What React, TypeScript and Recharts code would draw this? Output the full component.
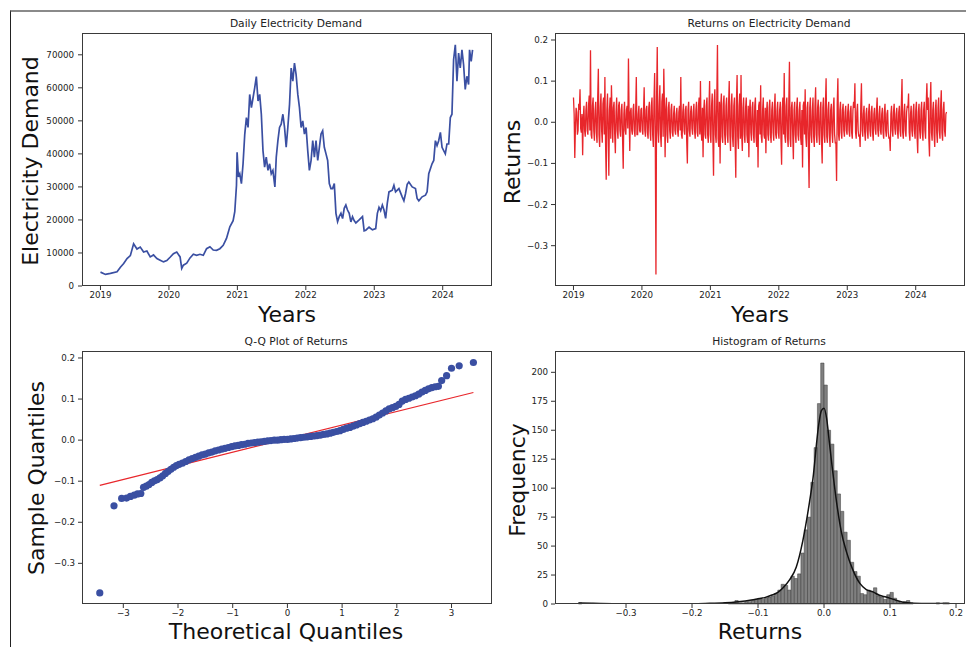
import React from 'react';
import { LineChart, Line, XAxis, YAxis, ComposedChart, Scatter, ReferenceArea } from 'recharts';

// ---------------- DATA ----------------
const yearTicks = [2019, 2020, 2021, 2022, 2023, 2024];
const demandTicks = [0, 10000, 20000, 30000, 40000, 50000, 60000, 70000];
const returnTicks = [-0.3, -0.2, -0.1, 0, 0.1, 0.2];
const qqXTicks = [-3, -2, -1, 0, 1, 2, 3];
const histXTicks = [-0.3, -0.2, -0.1, 0, 0.1, 0.2];
const histYTicks = [0, 25, 50, 75, 100, 125, 150, 175, 200];

// [decimal year, electricity demand]
const demandSeries: [number, number][] = [
  [2019.000, 4200], [2019.073, 3500], [2019.145, 3800], [2019.242, 4300], [2019.291, 5700], [2019.339, 6800],
  [2019.388, 8300], [2019.436, 9200], [2019.484, 12800], [2019.533, 11200], [2019.581, 11800], [2019.630, 10300],
  [2019.678, 10600], [2019.727, 8800], [2019.775, 9400], [2019.824, 8300], [2019.872, 7800], [2019.921, 7300],
  [2019.969, 7700], [2020.017, 8700], [2020.066, 9800], [2020.114, 10300], [2020.163, 8800], [2020.187, 5300],
  [2020.211, 6300], [2020.260, 6900], [2020.308, 8500], [2020.357, 9600], [2020.405, 9300], [2020.453, 9600],
  [2020.502, 9300], [2020.550, 11300], [2020.599, 11900], [2020.647, 10900], [2020.696, 10800], [2020.744, 11300],
  [2020.793, 12300], [2020.841, 14400], [2020.890, 17900], [2020.938, 19800], [2020.962, 22500], [2020.987, 30500],
  [2020.996, 40500], [2021.015, 33000], [2021.035, 34000], [2021.059, 31000], [2021.083, 37000], [2021.108, 46000],
  [2021.132, 51000], [2021.156, 48000], [2021.180, 58000], [2021.205, 54000], [2021.229, 57000], [2021.253, 60000],
  [2021.277, 63400], [2021.302, 56000], [2021.326, 58000], [2021.350, 52000], [2021.374, 41000], [2021.398, 36000],
  [2021.422, 39000], [2021.447, 35000], [2021.471, 37000], [2021.495, 34000], [2021.519, 35000], [2021.548, 30000],
  [2021.568, 39000], [2021.592, 44000], [2021.616, 48000], [2021.640, 49000], [2021.665, 52000], [2021.689, 48000],
  [2021.713, 42000], [2021.737, 48000], [2021.762, 55000], [2021.786, 66000], [2021.810, 62000], [2021.834, 67500],
  [2021.858, 64000], [2021.883, 58000], [2021.907, 54000], [2021.931, 48000], [2021.955, 50000], [2021.980, 46000],
  [2022.004, 48000], [2022.028, 41000], [2022.052, 35000], [2022.077, 38000], [2022.101, 44000], [2022.125, 39000],
  [2022.149, 44000], [2022.174, 38000], [2022.198, 42000], [2022.222, 46000], [2022.246, 47000], [2022.270, 42000],
  [2022.295, 40000], [2022.319, 38000], [2022.343, 31000], [2022.367, 29500], [2022.391, 29500], [2022.416, 31000],
  [2022.440, 22000], [2022.464, 19500], [2022.488, 21000], [2022.513, 22000], [2022.537, 20400], [2022.561, 23500],
  [2022.585, 24500], [2022.609, 23000], [2022.634, 22000], [2022.658, 19400], [2022.682, 21000], [2022.706, 19800],
  [2022.731, 19100], [2022.779, 20000], [2022.828, 21000], [2022.852, 16700], [2022.876, 16900], [2022.924, 17800],
  [2022.973, 17000], [2023.021, 17400], [2023.045, 22000], [2023.069, 23800], [2023.093, 22800], [2023.118, 24500],
  [2023.142, 23000], [2023.166, 20500], [2023.190, 25000], [2023.215, 28500], [2023.263, 29000], [2023.287, 30500],
  [2023.311, 28500], [2023.360, 29500], [2023.408, 27000], [2023.433, 25800], [2023.457, 28000], [2023.481, 30800],
  [2023.505, 31500], [2023.554, 30000], [2023.602, 29500], [2023.626, 26500], [2023.651, 25800], [2023.699, 27000],
  [2023.748, 27500], [2023.772, 28500], [2023.796, 34000], [2023.844, 37000], [2023.869, 38000], [2023.893, 44000],
  [2023.917, 42500], [2023.941, 44000], [2023.966, 46500], [2023.990, 42000], [2024.038, 40000], [2024.062, 43000],
  [2024.087, 43000], [2024.111, 51000], [2024.135, 52000], [2024.159, 68500], [2024.184, 73000], [2024.208, 62000],
  [2024.232, 70500], [2024.256, 66000], [2024.281, 71500], [2024.305, 67000], [2024.329, 59500], [2024.353, 63500],
  [2024.378, 61000], [2024.392, 71500], [2024.416, 68000], [2024.436, 71500],
];

// returns, one row per quarter (13 weekly observations), starting 2019.0
const returnsStart = 2019.0;
const returnsStep = 0.019123;
const returnRows: number[][] = [
  [0.06, -0.087, 0.035, -0.03, 0.045, 0.08, -0.025, -0.08, 0.04, -0.035, 0.05, -0.03, 0.065],
  [0.175, -0.04, 0.06, -0.045, 0.05, -0.05, 0.13, -0.06, 0.07, -0.05, 0.06, 0.11, -0.14],
  [0.07, -0.13, 0.06, 0.09, -0.05, 0.05, -0.075, 0.06, -0.04, 0.05, -0.035, 0.045, -0.113],
  [0.05, -0.03, 0.04, 0.155, -0.07, 0.035, -0.03, 0.045, -0.035, 0.11, -0.03, 0.04, -0.025],
  [0.035, -0.03, 0.085, -0.035, 0.04, -0.04, 0.05, -0.045, 0.06, -0.06, 0.12, -0.37, 0.183],
  [-0.05, 0.09, -0.06, 0.07, 0.13, -0.085, 0.06, -0.05, 0.05, -0.04, 0.045, -0.035, 0.04],
  [-0.03, 0.035, -0.035, 0.04, 0.11, -0.04, 0.045, -0.03, 0.04, -0.10, 0.05, -0.035, 0.04],
  [-0.03, 0.045, -0.04, 0.05, -0.035, 0.06, 0.10, -0.045, -0.085, 0.055, -0.04, 0.06, -0.05],
  [0.10, -0.05, 0.07, -0.13, 0.08, -0.05, 0.188, -0.06, -0.10, 0.07, -0.05, 0.065, -0.055],
  [0.06, -0.05, 0.10, -0.07, 0.07, -0.06, 0.06, -0.135, 0.115, -0.065, 0.07, 0.115, -0.07],
  [0.06, -0.05, 0.06, -0.05, -0.085, 0.055, -0.045, 0.05, -0.05, 0.06, -0.06, -0.11, 0.05],
  [0.09, -0.05, 0.06, -0.04, -0.075, 0.05, -0.045, 0.055, -0.05, 0.05, -0.045, 0.07, -0.04],
  [0.05, -0.04, 0.05, -0.103, 0.06, 0.12, -0.05, 0.06, -0.06, 0.147, -0.06, 0.05, -0.09],
  [0.05, -0.05, 0.06, -0.045, 0.05, -0.055, -0.11, 0.05, 0.08, -0.06, 0.05, -0.16, 0.06],
  [-0.05, 0.06, -0.06, 0.085, -0.05, 0.055, -0.055, 0.05, -0.10, 0.06, -0.05, 0.107, -0.05],
  [0.05, -0.06, 0.045, -0.05, 0.06, -0.05, -0.143, 0.107, -0.045, 0.05, -0.04, 0.045, -0.035],
  [0.04, -0.03, 0.045, -0.035, 0.04, -0.04, 0.05, 0.095, -0.04, 0.045, -0.035, -0.06, 0.095],
  [-0.035, 0.04, -0.045, 0.035, -0.04, 0.045, -0.035, 0.04, -0.045, 0.035, -0.03, 0.06, -0.035],
  [0.04, -0.03, 0.035, -0.04, 0.045, -0.035, 0.03, -0.04, -0.07, 0.04, -0.035, 0.045, -0.03],
  [0.035, -0.04, 0.04, -0.035, 0.105, -0.04, 0.045, -0.035, 0.04, 0.07, -0.045, 0.04, -0.035],
  [0.045, -0.04, 0.05, -0.075, 0.045, -0.04, 0.05, -0.045, 0.05, -0.04, 0.095, 0.06, -0.083],
  [0.098, -0.045, 0.05, -0.06, 0.055, -0.05, 0.06, -0.04, 0.078, -0.045, 0.05, -0.035, 0.025],
];
// mid-week returns, falling between the observations above (same row layout)
const returnMidRows: number[][] = [
  [0.02, -0.01, 0.025, -0.02, 0.03, -0.015, 0.02, 0.01, -0.02, 0.03, -0.02, 0.04, -0.02],
  [-0.03, 0.04, -0.02, 0.03, -0.025, 0.06, -0.03, 0.035, -0.02, 0.045, -0.03, -0.05, 0.03],
  [-0.02, 0.03, -0.04, 0.02, 0.035, -0.03, 0.025, -0.02, 0.04, -0.02, 0.03, -0.04, 0.02],
  [-0.02, 0.03, -0.015, 0.02, 0.025, -0.02, 0.03, -0.02, 0.025, -0.03, 0.02, -0.02, 0.03],
  [-0.02, 0.025, -0.02, 0.03, -0.025, 0.035, -0.02, 0.04, -0.03, 0.05, -0.04, 0.06, -0.02],
  [0.04, -0.03, 0.05, -0.035, 0.04, 0.03, -0.03, 0.035, -0.02, 0.03, -0.025, 0.02, -0.02],
  [0.02, -0.02, 0.025, -0.02, -0.03, 0.025, -0.02, 0.03, -0.045, 0.03, -0.02, 0.025, -0.015],
  [0.025, -0.02, 0.03, -0.025, 0.04, -0.03, -0.02, 0.035, 0.03, -0.03, 0.04, -0.03, 0.035],
  [-0.03, 0.04, -0.04, 0.05, -0.03, 0.06, -0.04, 0.05, 0.04, -0.035, 0.045, -0.03, 0.04],
  [-0.03, 0.045, -0.03, 0.04, -0.035, 0.04, -0.05, 0.05, -0.035, 0.04, -0.04, -0.03, 0.035],
  [-0.03, 0.035, -0.03, 0.04, 0.03, -0.025, 0.035, -0.03, 0.04, -0.035, 0.03, 0.04, -0.03],
  [-0.035, 0.03, -0.03, 0.035, 0.025, -0.03, 0.035, -0.03, 0.03, -0.025, 0.035, -0.03, 0.03],
  [-0.025, 0.03, -0.04, 0.035, -0.03, -0.035, 0.04, -0.035, 0.05, -0.04, 0.035, -0.03, 0.03],
  [-0.03, 0.035, -0.03, 0.03, -0.035, 0.03, 0.04, -0.03, -0.035, 0.035, -0.06, 0.035, -0.03],
  [0.03, -0.035, 0.04, -0.03, 0.035, -0.03, 0.035, -0.045, 0.035, -0.03, 0.045, -0.035, 0.03],
  [-0.03, 0.03, -0.025, 0.035, -0.03, -0.05, 0.045, -0.03, 0.03, -0.025, 0.03, -0.02, 0.025],
  [-0.02, 0.025, -0.02, 0.025, -0.025, 0.03, 0.035, -0.025, 0.025, -0.02, -0.03, 0.04, -0.02],
  [0.02, -0.025, 0.02, -0.02, 0.025, -0.02, 0.025, -0.025, 0.02, -0.015, 0.03, -0.02, 0.02],
  [-0.02, 0.02, -0.025, 0.025, -0.02, 0.02, -0.025, -0.035, 0.02, -0.02, 0.025, -0.015, 0.02],
  [-0.02, 0.025, -0.02, 0.045, -0.025, 0.025, -0.02, 0.025, 0.035, -0.025, 0.02, -0.02, 0.025],
  [-0.02, 0.03, -0.035, 0.025, -0.02, 0.03, -0.025, 0.03, -0.02, 0.045, 0.03, -0.04, 0.045],
  [-0.025, 0.03, -0.03, 0.03, -0.025, 0.035, -0.02, 0.04, -0.025, 0.03, -0.02, 0.02, 0.01],
];

// Q-Q plot points: [theoretical quantile, sample quantile]
const qqPoints: [number, number][] = [
  [-3.43, -0.372], [-3.17, -0.160], [-3.03, -0.142], [-2.94, -0.141], [-2.87, -0.137], [-2.80, -0.134],
  [-2.74, -0.131], [-2.68, -0.130], [-2.63, -0.115], [-2.58, -0.112], [-2.53, -0.108], [-2.48, -0.103],
  [-2.43, -0.099], [-2.38, -0.096], [-2.33, -0.092], [-2.28, -0.087], [-2.23, -0.081], [-2.18, -0.076],
  [-2.13, -0.071], [-2.08, -0.066], [-2.03, -0.062], [-1.98, -0.059], [-1.92, -0.056], [-1.86, -0.052],
  [-1.80, -0.048], [-1.74, -0.045], [-1.68, -0.042], [-1.62, -0.039], [-1.56, -0.036], [-1.50, -0.034],
  [-1.44, -0.031], [-1.38, -0.029], [-1.32, -0.026], [-1.26, -0.024], [-1.20, -0.022], [-1.14, -0.020],
  [-1.08, -0.018], [-1.02, -0.016], [-0.96, -0.014], [-0.90, -0.013], [-0.84, -0.011], [-0.78, -0.010],
  [-0.72, -0.008], [-0.66, -0.007], [-0.60, -0.006], [-0.54, -0.005], [-0.48, -0.004], [-0.42, -0.003],
  [-0.36, -0.002], [-0.30, -0.001], [-0.24, 0.000], [-0.18, 0.000], [-0.12, 0.001], [-0.06, 0.002],
  [0.00, 0.002], [0.06, 0.003], [0.12, 0.004], [0.18, 0.005], [0.24, 0.006], [0.30, 0.007],
  [0.36, 0.008], [0.42, 0.009], [0.48, 0.010], [0.54, 0.011], [0.60, 0.012], [0.66, 0.014],
  [0.72, 0.015], [0.78, 0.017], [0.84, 0.019], [0.90, 0.021], [0.96, 0.023], [1.02, 0.026],
  [1.08, 0.029], [1.14, 0.031], [1.20, 0.034], [1.26, 0.037], [1.32, 0.040], [1.38, 0.043],
  [1.44, 0.046], [1.50, 0.049], [1.56, 0.052], [1.62, 0.056], [1.68, 0.061], [1.74, 0.066],
  [1.80, 0.071], [1.86, 0.076], [1.92, 0.079], [1.98, 0.082], [2.04, 0.087], [2.10, 0.095],
  [2.16, 0.099], [2.22, 0.102], [2.28, 0.105], [2.34, 0.108], [2.40, 0.112], [2.46, 0.117],
  [2.52, 0.121], [2.58, 0.125], [2.64, 0.128], [2.70, 0.130], [2.76, 0.131], [2.82, 0.145],
  [2.91, 0.157], [3.00, 0.175], [3.14, 0.181], [3.40, 0.189],
];
// fitted reference line end points
const qqLine: [number, number][] = [[-3.43, -0.110], [3.40, 0.116]];

// histogram: regular bins of width 0.005 starting at centre -0.1475
const histStart = -0.1475;
const histWidth = 0.005;
const histCounts = [
  0, 1, 1, 3, 1, 1, 2, 2, 3, 4, 5, 4, 5, 6, 7, 9, 12, 17, 16, 12,
  24, 22, 26, 44, 64, 75, 105, 135, 173, 208, 189, 150, 138, 115, 95, 80, 62, 55, 36, 28,
  24, 9, 8, 12, 11, 14, 7, 6, 4, 8, 10, 5, 2, 1, 2, 3, 1, 0,
];
// isolated outlier bins: [centre, count]
const histOutliers: [number, number][] = [[-0.3695, 1], [0.1725, 1], [0.1825, 1], [0.1875, 1]];
// kernel density estimate (scaled to counts)
const kdeCurve: [number, number][] = [
  [-0.372, 0.8], [-0.35, 0.6], [-0.32, 0.3], [-0.28, 0.2], [-0.22, 0.2], [-0.18, 0.5], [-0.15, 1],
  [-0.13, 2], [-0.11, 3.5], [-0.10, 4.5], [-0.09, 5.5], [-0.08, 7.5], [-0.07, 10], [-0.062, 14],
  [-0.052, 21], [-0.042, 32], [-0.032, 55], [-0.022, 88], [-0.016, 112], [-0.012, 135], [-0.008, 155],
  [-0.004, 167], [0.0, 169], [0.004, 160], [0.008, 140], [0.012, 120], [0.019, 88], [0.026, 63],
  [0.034, 45], [0.044, 29], [0.054, 18], [0.064, 12.5], [0.074, 10.5], [0.084, 7.5], [0.094, 6],
  [0.105, 4], [0.12, 1.5], [0.135, 0.7], [0.16, 0.5], [0.189, 0.5],
];

// ---------------- DERIVED TABLES ----------------
const demandData = demandSeries.map(([x, y]) => ({ x, y }));
const retMain = returnRows.flat();
const retMid = returnMidRows.flat();
const returnsData = retMain.flatMap((y, i) => {
  const x = returnsStart + i * returnsStep;
  const pts = [{ x, y }];
  if (i < retMain.length - 1 && retMid[i] !== undefined) pts.push({ x: x + returnsStep / 2, y: retMid[i] });
  return pts;
});
const qqData = qqPoints.map(([x, y]) => ({ x, y }));
const qqLineData = qqLine.map(([x, y]) => ({ x, y }));
const histData = [
  ...histCounts.map((c, i) => ({ x: histStart + i * histWidth, count: c })),
  ...histOutliers.map(([x, c]) => ({ x, count: c })),
].filter((b) => b.count > 0);
const kdeData = kdeCurve.map(([x, y]) => ({ x, y }));

// ---------------- STYLE ----------------
const FONT = '"DejaVu Sans", Verdana, sans-serif';
const BOX_W = 410;
const BOX_H = 253;
const AXW = 70;
const AXH = 30;
const BLUE = '#3a4fa2';
const RED = '#e8262b';

const minus = (s: string) => s.replace('-', '\u2212');
const f1 = (v: number) => minus((Math.abs(v) < 1e-9 ? 0 : v).toFixed(1));
const f0 = (v: number) => minus(String(Math.round(v)));

const tickStyle = { fontSize: 8.7, fill: '#222', fontFamily: FONT };
const tickLineStyle = { stroke: '#333', strokeWidth: 1 };

function Panel(props: { x: number; y: number; title: string; children: React.ReactNode }) {
  const { x, y, title, children } = props;
  return (
    <>
      <div style={{ position: 'absolute', left: x - AXW, top: y, width: BOX_W + AXW, height: BOX_H + AXH }}>
        {children}
      </div>
      <div
        style={{
          position: 'absolute', left: x, top: y, width: BOX_W, height: BOX_H,
          border: '1px solid #3a3a3a', boxSizing: 'border-box', pointerEvents: 'none',
        }}
      />
      <div
        style={{
          position: 'absolute', left: x + 9, top: y - 15, width: BOX_W, textAlign: 'center',
          fontSize: 10.7, lineHeight: '12px', fontFamily: FONT, color: '#222', whiteSpace: 'nowrap',
        }}
      >
        {title}
      </div>
    </>
  );
}

function YLabel(props: { cx: number; cy: number; text: string }) {
  return (
    <div
      style={{
        position: 'absolute', left: props.cx, top: props.cy, transform: 'translate(-50%, -50%) rotate(-90deg)',
        fontSize: 22, lineHeight: '22px', fontFamily: FONT, color: '#111', whiteSpace: 'nowrap',
      }}
    >
      {props.text}
    </div>
  );
}

function XLabel(props: { cx: number; cy: number; text: string }) {
  return (
    <div
      style={{
        position: 'absolute', left: props.cx, top: props.cy, transform: 'translate(-50%, -50%)',
        fontSize: 22, lineHeight: '22px', fontFamily: FONT, color: '#111', whiteSpace: 'nowrap',
      }}
    >
      {props.text}
    </div>
  );
}

const CW = BOX_W + AXW;
const CH = BOX_H + AXH;
const M = { top: 0, right: 0, bottom: 0, left: 0 };

function QQDot(p: any) {
  if (p.cx == null || p.cy == null) return null;
  return <circle cx={p.cx} cy={p.cy} r={3.6} fill={BLUE} />;
}

export default function App() {
  return (
    <div style={{ position: 'absolute', left: 0, top: 0, width: 966, height: 647, background: '#fff', overflow: 'hidden' }}>
      {/* outer figure frame */}
      <div style={{ position: 'absolute', left: 10, top: 10, width: 956, height: 637, borderLeft: '1px solid #222', borderTop: '2px solid #8a8a8a' }} />

      {/* Top-left: Daily Electricity Demand */}
      <Panel x={82} y={33} title="Daily Electricity Demand">
        <LineChart width={CW} height={CH} data={demandData} margin={M}>
          <XAxis dataKey="x" type="number" domain={[2018.73, 2024.72]} ticks={yearTicks} allowDataOverflow
            height={AXH} tick={tickStyle} tickLine={tickLineStyle} axisLine={false} tickSize={4} tickMargin={2}
            tickFormatter={f0} interval={0} />
          <YAxis dataKey="y" type="number" domain={[0, 76600]} ticks={demandTicks} allowDataOverflow
            width={AXW} tick={tickStyle} tickLine={tickLineStyle} axisLine={false} tickSize={4} tickMargin={4}
            tickFormatter={f0} interval={0} />
          <Line dataKey="y" stroke={BLUE} strokeWidth={1.7} dot={false} isAnimationActive={false} type="linear" />
        </LineChart>
      </Panel>
      <YLabel cx={31} cy={161} text="Electricity Demand" />
      <XLabel cx={287} cy={315} text="Years" />

      {/* Top-right: Returns */}
      <Panel x={555} y={33} title="Returns on Electricity Demand">
        <LineChart width={CW} height={CH} data={returnsData} margin={M}>
          <XAxis dataKey="x" type="number" domain={[2018.73, 2024.72]} ticks={yearTicks} allowDataOverflow
            height={AXH} tick={tickStyle} tickLine={tickLineStyle} axisLine={false} tickSize={4} tickMargin={2}
            tickFormatter={f0} interval={0} />
          <YAxis dataKey="y" type="number" domain={[-0.398, 0.217]} ticks={returnTicks} allowDataOverflow
            width={AXW} tick={tickStyle} tickLine={tickLineStyle} axisLine={false} tickSize={4} tickMargin={3}
            tickFormatter={f1} interval={0} />
          <Line dataKey="y" stroke={RED} strokeWidth={1.3} dot={false} isAnimationActive={false} type="linear" />
        </LineChart>
      </Panel>
      <YLabel cx={513} cy={162} text="Returns" />
      <XLabel cx={760} cy={315} text="Years" />

      {/* Bottom-left: Q-Q plot */}
      <Panel x={82} y={351} title="Q-Q Plot of Returns">
        <ComposedChart width={CW} height={CH} margin={M}>
          <XAxis dataKey="x" type="number" domain={[-3.755, 3.74]} ticks={qqXTicks} allowDataOverflow
            height={AXH} tick={tickStyle} tickLine={tickLineStyle} axisLine={false} tickSize={4} tickMargin={2}
            tickFormatter={f0} interval={0} />
          <YAxis dataKey="y" type="number" domain={[-0.399, 0.217]} ticks={returnTicks} allowDataOverflow
            width={AXW} tick={tickStyle} tickLine={tickLineStyle} axisLine={false} tickSize={4} tickMargin={3}
            tickFormatter={f1} interval={0} />
          <Scatter data={qqData} dataKey="y" shape={QQDot} isAnimationActive={false} />
          <Line data={qqLineData} dataKey="y" stroke={RED} strokeWidth={1.2} dot={false} isAnimationActive={false} type="linear" />
        </ComposedChart>
      </Panel>
      <YLabel cx={37} cy={478} text="Sample Quantiles" />
      <XLabel cx={286} cy={632} text="Theoretical Quantiles" />

      {/* Bottom-right: Histogram */}
      <Panel x={555} y={351} title="Histogram of Returns">
        <ComposedChart width={CW} height={CH} margin={M}>
          <XAxis dataKey="x" type="number" domain={[-0.4076, 0.2136]} ticks={histXTicks} allowDataOverflow
            height={AXH} tick={tickStyle} tickLine={tickLineStyle} axisLine={false} tickSize={4} tickMargin={2}
            tickFormatter={f1} interval={0} />
          <YAxis dataKey="y" type="number" domain={[0, 218.4]} ticks={histYTicks} allowDataOverflow
            width={AXW} tick={tickStyle} tickLine={tickLineStyle} axisLine={false} tickSize={4} tickMargin={3}
            tickFormatter={f0} interval={0} />
          {histData.map((b, i) => (
            <ReferenceArea
              key={i}
              x1={b.x - histWidth / 2}
              x2={b.x + histWidth / 2}
              y1={0}
              y2={b.count}
              fill="#808080"
              fillOpacity={1}
              stroke="#3a3a3a"
              strokeWidth={0.5}
              strokeOpacity={1}
              ifOverflow="visible"
            />
          ))}
          <Line data={kdeData} dataKey="y" stroke="#111" strokeWidth={1.5} dot={false} isAnimationActive={false} type="monotone" />
        </ComposedChart>
      </Panel>
      <YLabel cx={518} cy={480} text="Frequency" />
      <XLabel cx={760} cy={632} text="Returns" />
    </div>
  );
}
